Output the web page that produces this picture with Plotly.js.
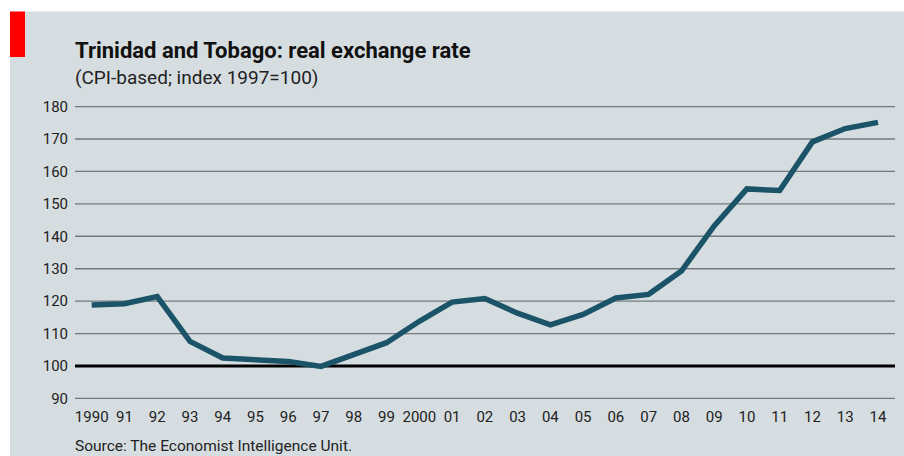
<!DOCTYPE html>
<html>
<head>
<meta charset="utf-8">
<script src="https://cdn.plot.ly/plotly-3.0.1.min.js"></script>
<style>html,body{margin:0;padding:0;background:#fff;}#chart{width:904px;height:456px;}</style>
</head>
<body>
<div id="chart"></div>
<script>
const years = [1990,1991,1992,1993,1994,1995,1996,1997,1998,1999,2000,2001,2002,2003,2004,2005,2006,2007,2008,2009,2010,2011,2012,2013,2014];
const rer = [118.8,119.2,121.4,107.6,102.5,101.8,101.4,99.9,103.6,107.2,113.8,119.7,120.8,116.3,112.7,115.9,121.0,122.1,129.3,143.2,154.6,154.1,169.1,173.2,175.1];
const xTickLabels = ['1990','91','92','93','94','95','96','97','98','99','2000','01','02','03','04','05','06','07','08','09','10','11','12','13','14'];
const yTicks = [90,100,110,120,130,140,150,160,170,180];
const baseValue = 100;
const titleText = 'Trinidad and Tobago: real exchange rate';
const subtitleText = '(CPI-based; index 1997=100)';
const sourceText = 'Source: The Economist Intelligence Unit.';

const FONT = 'Roboto, "Noto Sans", sans-serif';
const BG = '#d6dde0';

const trace = {
  x: years, y: rer, type: 'scatter', mode: 'lines',
  line: {color: '#1b5468', width: 5.5},
  hoverinfo: 'skip'
};

const gridShapes = yTicks.filter(v => v !== baseValue).map(v => ({
  type: 'line', xref: 'paper', yref: 'y', x0: 0, x1: 1, y0: v, y1: v,
  line: {color: '#737a7e', width: 1.4}, layer: 'below'
}));

const layout = {
  width: 904, height: 456,
  margin: {l: 75, r: 9, t: 106, b: 57},
  paper_bgcolor: BG, plot_bgcolor: BG,
  showlegend: false,
  font: {family: FONT, color: '#222', size: 15},
  xaxis: {
    range: [1989.49, 2014.52], tickvals: years, ticktext: xTickLabels,
    showgrid: false, zeroline: false, showline: false, ticks: '',
    ticklabelstandoff: 7,
    tickfont: {family: FONT, size: 15, color: '#222'}, fixedrange: true
  },
  yaxis: {
    range: [89.85, 180.15], tickvals: yTicks, showgrid: false,
    zeroline: false, showline: false,
    ticks: '', ticklabelstandoff: 6,
    tickfont: {family: FONT, size: 15, color: '#222'}, fixedrange: true
  },
  shapes: [
    {type: 'rect', xref: 'paper', yref: 'paper', x0: -0.12, x1: 1.02, y0: 1.3225, y1: 1.45, fillcolor: '#ffffff', line: {width: 0}, layer: 'below'},
    {type: 'rect', xref: 'paper', yref: 'paper', x0: -0.12, x1: -0.07927, y0: -0.25, y1: 1.45, fillcolor: '#ffffff', line: {width: 0}, layer: 'below'},
    {type: 'rect', xref: 'paper', yref: 'paper', x0: -0.07927, x1: -0.06098, y0: 1.1672, y1: 1.3225, fillcolor: '#ff0000', line: {width: 0}, layer: 'below'},
    ...gridShapes,
    {type: 'line', xref: 'paper', yref: 'y', x0: 0, x1: 1, y0: baseValue, y1: baseValue, line: {color: '#000000', width: 3}, layer: 'below'}
  ],
  annotations: [
    {text: '<b>' + titleText + '</b>', xref: 'paper', yref: 'paper', x: 0, xshift: -2, y: 1.14, xanchor: 'left', yanchor: 'bottom', showarrow: false, font: {family: FONT, size: 22, color: '#111'}},
    {text: subtitleText, xref: 'paper', yref: 'paper', x: 0, xshift: -2, y: 1.098, xanchor: 'left', yanchor: 'middle', showarrow: false, font: {family: FONT, size: 19, color: '#222'}},
    {text: sourceText, xref: 'paper', yref: 'paper', x: 0, xshift: -2, y: -0.162, xanchor: 'left', yanchor: 'middle', showarrow: false, font: {family: FONT, size: 15.5, color: '#222'}}
  ]
};

Plotly.newPlot('chart', [trace], layout, {staticPlot: true, displayModeBar: false});
</script>
</body>
</html>
